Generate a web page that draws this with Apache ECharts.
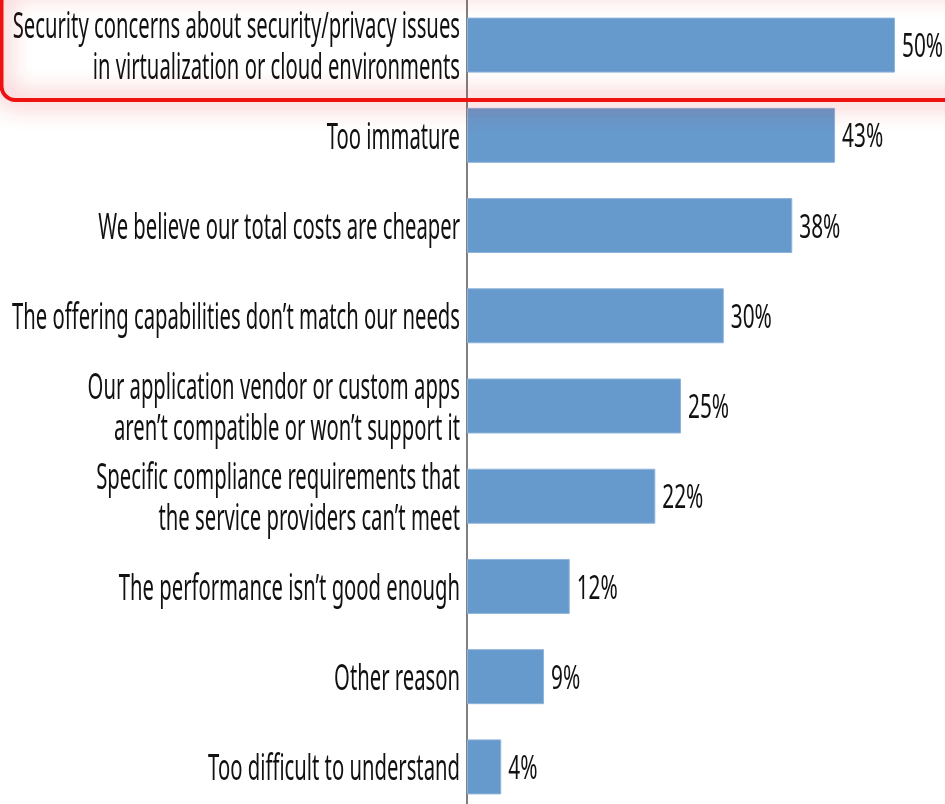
<!DOCTYPE html>
<html>
<head>
<meta charset="utf-8">
<script src="https://cdn.jsdelivr.net/npm/echarts@6/dist/echarts.min.js"></script>
<style>
html,body{margin:0;padding:0;background:#fff;}
#chart{width:945px;height:804px;}
</style>
</head>
<body>
<div id="chart"></div>
<script>
const categories = [
  "Security concerns about security/privacy issues\nin virtualization or cloud environments",
  "Too immature",
  "We believe our total costs are cheaper",
  "The offering capabilities don\u2019t match our needs",
  "Our application vendor or custom apps\naren\u2019t compatible or won\u2019t support it",
  "Specific compliance requirements that\nthe service providers can\u2019t meet",
  "The performance isn\u2019t good enough",
  "Other reason",
  "Too difficult to understand"
];
const values = [50, 43, 38, 30, 25, 22, 12, 9, 4];

const FONT = '"Noto Sans", "Open Sans", sans-serif';
const labelData = values.map(function (v, i) { return [i, v]; });

const chart = echarts.init(document.getElementById('chart'), null, {renderer: 'canvas'});
chart.setOption({
  animation: false,
  backgroundColor: '#ffffff',
  grid: {left: 467, right: 50, top: 0, bottom: -8, containLabel: false, outerBoundsMode: 'none'},
  xAxis: {
    type: 'value', min: 0, max: 50, show: false
  },
  yAxis: {
    type: 'category',
    data: categories,
    inverse: true,
    axisLine: {show: true, lineStyle: {color: '#555', width: 1.5}},
    axisTick: {show: false},
    splitLine: {show: false},
    axisLabel: {show: false}
  },
  series: [{
    type: 'bar',
    data: values,
    barWidth: 55,
    itemStyle: {color: '#6699cc', borderColor: '#8fb4da', borderWidth: 1}
  }, {
    type: 'custom',
    clip: false,
    data: labelData,
    encode: {x: 1, y: 0},
    z: 5,
    renderItem: function (params, api) {
      const idx = api.value(0);
      const v = api.value(1);
      const p0 = api.coord([0, idx]);
      const p1 = api.coord([v, idx]);
      return {
        type: 'group',
        children: [{
          type: 'text',
          x: p0[0] - 7,
          y: p0[1] + 3,
          scaleX: 0.5625,
          style: {
            text: categories[idx],
            font: '36px ' + FONT,
            fill: '#111',
            align: 'right',
            verticalAlign: 'middle',
            lineHeight: 41
          }
        }, {
          type: 'text',
          x: p1[0] + 7,
          y: p1[1] + 3,
          scaleX: 0.65,
          style: {
            text: v + '%',
            font: '32px ' + FONT,
            fill: '#111',
            align: 'left',
            verticalAlign: 'middle'
          }
        }]
      };
    }
  }],
  graphic: [{
    type: 'rect',
    z: 100,
    shape: {x: 1.5, y: -12, width: 980, height: 112, r: 14},
    style: {
      fill: 'none',
      stroke: '#ee1111',
      lineWidth: 4,
      shadowBlur: 24,
      shadowColor: 'rgba(230,30,30,0.9)'
    }
  }]
});
</script>
</body>
</html>
